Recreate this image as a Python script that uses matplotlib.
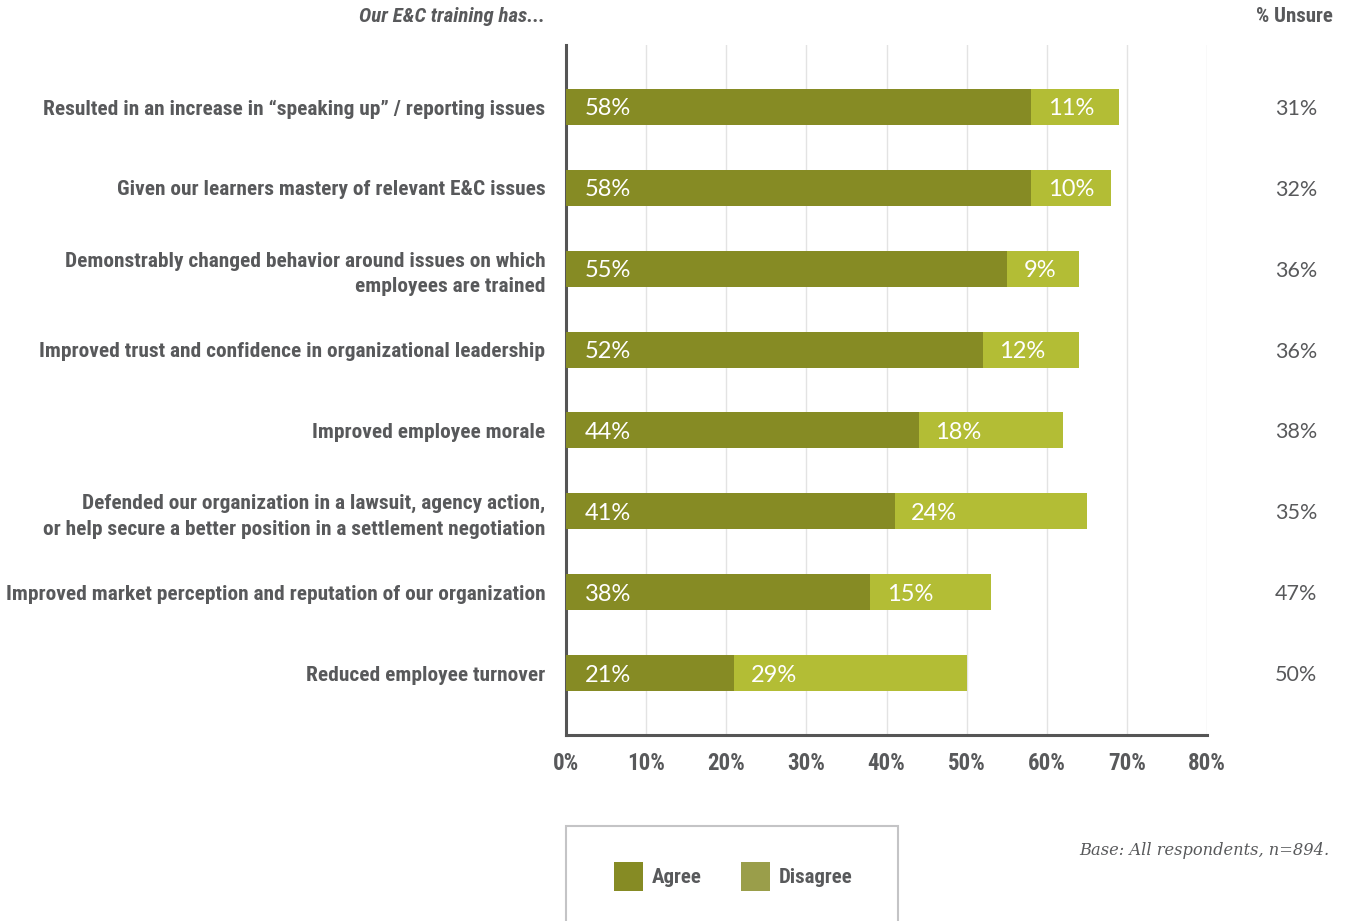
import os
import matplotlib
matplotlib.use("Agg")
import matplotlib.pyplot as plt
from matplotlib.patches import Rectangle
from matplotlib import font_manager
from matplotlib.font_manager import FontProperties

categories = [
    "Resulted in an increase in \u201cspeaking up\u201d / reporting issues",
    "Given our learners mastery of relevant E&C issues",
    "Demonstrably changed behavior around issues on which\nemployees are trained",
    "Improved trust and confidence in organizational leadership",
    "Improved employee morale",
    "Defended our organization in a lawsuit, agency action,\nor help secure a better position in a settlement negotiation",
    "Improved market perception and reputation of our organization",
    "Reduced employee turnover",
]
agree = [58, 58, 55, 52, 44, 41, 38, 21]
disagree = [11, 10, 9, 12, 18, 24, 15, 29]
unsure = [31, 32, 36, 36, 38, 35, 47, 50]
xticks = [0, 10, 20, 30, 40, 50, 60, 70, 80]
xtick_labels = [f"{t}%" for t in xticks]

AGREE_C = "#868b24"
DISAGREE_C = "#b3bd35"
DISAGREE_LEG = "#9a9e4a"
TEXT_C = "#58595b"

files = {os.path.basename(f.fname).lower(): f.fname
         for f in font_manager.fontManager.ttflist}


def pick(candidates):
    for c in candidates:
        if c.lower() in files:
            return files[c.lower()]
    return None


cond_bold_file = pick(["LiberationSansNarrow-Bold.ttf", "RobotoCondensed-Bold.ttf",
                       "DejaVuSansCondensed-Bold.ttf", "OpenSans-CondBold.ttf"])
cond_bi_file = pick(["LiberationSansNarrow-BoldItalic.ttf",
                     "RobotoCondensed-BoldItalic.ttf",
                     "DejaVuSansCondensed-BoldOblique.ttf"])

if cond_bold_file:
    LBL = FontProperties(fname=cond_bold_file, size=15.4)
    TICK = FontProperties(fname=cond_bold_file, size=16.5)
    LEG = FontProperties(fname=cond_bold_file, size=15)
    BASE_SIZE = 15
else:
    LBL = FontProperties(family="Roboto", weight="bold", size=12.5)
    TICK = FontProperties(family="Roboto", weight="bold", size=13)
    LEG = FontProperties(family="Roboto", weight="bold", size=12.5)
    BASE_SIZE = 12.5
if cond_bi_file:
    TITLE = FontProperties(fname=cond_bi_file, size=BASE_SIZE)
else:
    TITLE = FontProperties(family="Roboto", weight="bold", style="italic",
                           size=BASE_SIZE)

VAL = "Lato"

fig = plt.figure(figsize=(13.48, 9.21), dpi=100)
ax = fig.add_axes([566 / 1348, 1 - 735 / 921, (1207 - 566) / 1348, (735 - 45) / 921])

y = list(range(len(categories)))
h = 0.445
ax.barh(y, agree, height=h, color=AGREE_C, zorder=3)
ax.barh(y, disagree, left=agree, height=h, color=DISAGREE_C, zorder=3)

for i in y:
    ax.text(2.3, i, f"{agree[i]}%", color="white", va="center_baseline",
            ha="left", fontsize=17, family=VAL, zorder=4)
    ax.text(agree[i] + 2.1, i, f"{disagree[i]}%", color="white",
            va="center_baseline", ha="left", fontsize=17, family=VAL, zorder=4)
    ax.text(91.1, i, f"{unsure[i]}%", color=TEXT_C, va="center_baseline",
            ha="center", fontsize=15.5, family=VAL, clip_on=False)

ax.set_xlim(0, 80)
ax.set_ylim(7.766, -0.766)
ax.set_xticks(xticks)
ax.set_xticklabels(xtick_labels, fontproperties=TICK, color=TEXT_C)
ax.set_yticks(y)
ax.set_yticklabels(categories, fontproperties=LBL, color=TEXT_C, linespacing=1.45)
ax.tick_params(axis="both", length=0)
ax.tick_params(axis="x", pad=12)
ax.tick_params(axis="y", pad=15)

ax.grid(axis="x", color="#e3e3e3", linewidth=1, zorder=0)
for s in ("top", "right"):
    ax.spines[s].set_visible(False)
for s in ("left", "bottom"):
    ax.spines[s].set_color("#555555")
    ax.spines[s].set_linewidth(2.2)

fig.text(545 / 1348, 1 - 17 / 921, "Our E&C training has...", ha="right",
         va="center", fontproperties=TITLE, color=TEXT_C)
fig.text(1294 / 1348, 1 - 17 / 921, "% Unsure", ha="center", va="center",
         fontproperties=LEG, color=TEXT_C)
fig.text(1329 / 1348, 1 - 850 / 921, "Base: All respondents, n=894.", ha="right",
         va="center", family="DejaVu Serif", style="italic", fontsize=11.7,
         color=TEXT_C)

# legend box
fig.patches.append(Rectangle((566 / 1348, -0.05), (898 - 566) / 1348,
                             0.05 + 1 - 826 / 921, transform=fig.transFigure,
                             facecolor="white", edgecolor="#c4c4c6", linewidth=1.5))
for x0, col, lab in ((614, AGREE_C, "Agree"), (741, DISAGREE_LEG, "Disagree")):
    fig.patches.append(Rectangle((x0 / 1348, 1 - 891 / 921), 29 / 1348, 29 / 921,
                                 transform=fig.transFigure, facecolor=col,
                                 edgecolor="none"))
    fig.text((x0 + 38) / 1348, 1 - 877 / 921, lab, ha="left", va="center",
             fontproperties=LEG, color=TEXT_C)

fig.savefig("out.png", dpi=100)
